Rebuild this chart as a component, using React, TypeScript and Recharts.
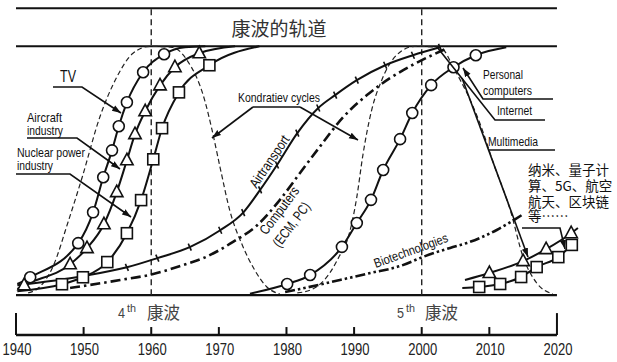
import { ComposedChart, Line, XAxis, YAxis, ReferenceLine } from 'recharts';

type Pt = [number, number];

// year labels along the bottom scale
const years = [1940, 1950, 1960, 1970, 1980, 1990, 2000, 2010, 2020];

// Kondratiev waves (dashed bells), level 0..100
const wave4: Pt[] = [
  [1941.8, 0.9], [1943.5, 3.3], [1945.5, 11.7], [1947.7, 29.4], [1949.8, 47.5], [1952.4, 71.6],
  [1954.9, 87.6], [1957.3, 97.2], [1959.8, 100], [1963.1, 99.6], [1965.3, 94.4], [1967.9, 78.4],
  [1969.0, 66.3], [1970.2, 51.1], [1971.6, 34.2], [1973.6, 19.3], [1975.3, 10.1], [1977.1, 3.3], [1979.0, 0.5],
];
const wave5: Pt[] = [
  [1981.6, 0.9], [1983.9, 2.5], [1986.4, 8.9], [1987.9, 16.1], [1989.0, 22.1], [1990.4, 39.4],
  [1991.3, 56.3], [1992.6, 74.4], [1994.1, 86.5], [1996.3, 96.5], [1999.0, 100], [2002.7, 99.6],
  [2004.9, 90.4], [2008.6, 69.1], [2010.7, 52.3], [2013.1, 34.2], [2015.0, 15.3], [2017.0, 4.9], [2019.4, 0.5],
];

// technology S-curves
const tvMarks: Pt[] = [
  [1942.1, 7.2], [1949.2, 20.9], [1951.4, 33.3], [1952.9, 47.4], [1954.2, 58.2], [1955.2, 67.9],
  [1956.4, 77.5], [1958.8, 89.6], [1961.9, 96.8],
];
const aircraftMarks: Pt[] = [
  [1941.2, 4.0], [1948.0, 12.4], [1950.5, 18.9], [1953.0, 28.5], [1954.9, 41.4], [1956.4, 54.2],
  [1957.6, 64.7], [1959.1, 73.9], [1961.3, 84.3], [1963.5, 91.6], [1967.1, 97.2],
];
const nuclearMarks: Pt[] = [
  [1946.8, 4.4], [1949.9, 7.2], [1953.5, 13.3], [1956.4, 24.9], [1958.5, 38.2], [1960.3, 54.6],
  [1961.6, 67.1], [1964.1, 81.5], [1968.6, 92.4],
];
const airtransport: Pt[] = [
  [1940.2, 4.0], [1949.8, 7.6], [1956.4, 11.2], [1960.9, 14.9], [1965.7, 19.3], [1970.2, 26.1],
  [1973.6, 33.2], [1976.1, 42.3], [1978.6, 52.3], [1981.6, 65.1], [1984.7, 75.2], [1987.2, 80.4],
  [1990.4, 86.4], [1994.6, 92.4], [1998.7, 96.4], [2002.7, 99.6],
];
const computers: Pt[] = [
  [1948.0, 2.9], [1955.4, 6.1], [1960.3, 8.5], [1964.7, 12.1], [1967.7, 14.9], [1972.1, 21.4],
  [1975.7, 28.2], [1979.0, 38.2], [1982.0, 49.1], [1985.0, 59.9], [1988.4, 71.6], [1991.9, 80.4],
  [1995.3, 87.2], [1998.3, 92.0], [2001.2, 96.0], [2003.4, 98.8],
];
const pcMarks: Pt[] = [
  [1980.1, 4.5], [1983.5, 8.1], [1988.2, 19.4], [1990.4, 29.0], [1992.5, 38.3], [1994.3, 50.3],
  [1996.8, 62.7], [1998.6, 73.2], [2001.4, 84.4], [2004.7, 91.6], [2008.0, 96.4],
];
const biotech: Pt[] = [
  [1979.8, 1.3], [1982.0, 2.5], [1987.9, 6.1], [1992.4, 8.9], [1996.8, 11.7], [2000.5, 15.7],
  [2004.2, 19.0], [2006.7, 21.0], [2011.1, 26.2], [2014.8, 32.2],
];
const newTriMarks: Pt[] = [[2010.0, 8.9], [2015.0, 13.7], [2018.4, 18.5], [2022.1, 24.9]];
const newSqMarks: Pt[] = [[2008.5, 3.3], [2011.6, 4.5], [2014.7, 7.3], [2017.0, 11.3], [2020.2, 15.3], [2022.2, 20.2]];

const tvCurve: Pt[] = [[1940.2, 4.5], ...tvMarks, [1965.0, 99.6], [1968.0, 100]];
const aircraftCurve: Pt[] = [[1940.2, 2.5], ...aircraftMarks, [1972.4, 100]];
const nuclearCurve: Pt[] = [[1940.2, 1.6], ...nuclearMarks, [1976.0, 100]];
const pcCurve: Pt[] = [[1974.6, 0.6], ...pcMarks, [2012.5, 99.6]];
const newTriCurve: Pt[] = [[2006.4, 6.1], ...newTriMarks, [2023.1, 27.0]];
const newSqCurve: Pt[] = [[2006.0, 2.9], ...newSqMarks, [2023.0, 22.2]];

const rows = (pts: Pt[]) => pts.map(([year, level]) => ({ year, level }));

const SANS = "'Liberation Sans', Arial, sans-serif";
const CJK = "'Noto Sans CJK SC', 'Noto Sans', sans-serif";
const INK = '#111';

const Circle = (p: any) =>
  p.cx == null ? <g key={p.key} /> : <circle key={p.key} cx={p.cx} cy={p.cy} r={5.5} fill="#fff" stroke={INK} strokeWidth={1.6} />;
const Tri = (p: any) =>
  p.cx == null ? <g key={p.key} /> : (
    <polygon key={p.key} points={`${p.cx},${p.cy - 7} ${p.cx - 6.2},${p.cy + 4.5} ${p.cx + 6.2},${p.cy + 4.5}`} fill="#fff" stroke={INK} strokeWidth={1.6} />
  );
const Sq = (p: any) =>
  p.cx == null ? <g key={p.key} /> : (
    <rect key={p.key} x={p.cx - 5.5} y={p.cy - 5.5} width={11} height={11} fill="#fff" stroke={INK} strokeWidth={1.6} />
  );
const Tick = (p: any) =>
  p.cx == null || p.index === 0 ? <g key={p.key} /> : (
    <line key={p.key} x1={p.cx - 1.5} y1={p.cy - 3.5} x2={p.cx + 1.5} y2={p.cy + 3.5} stroke={INK} strokeWidth={1.6} />
  );

const YearTick = (p: any) => (
  <text x={p.x + 1} y={355} textAnchor="middle" fontFamily={SANS} fontSize={17} fill="#222" textLength={29} lengthAdjust="spacingAndGlyphs">
    {p.payload.value}
  </text>
);

// narrow label: squeeze Liberation Sans to the width the original uses
const Label = ({ x, y, w, size = 13, children, ...rest }: any) => (
  <text x={x} y={y} fontSize={size} textLength={w} lengthAdjust="spacingAndGlyphs" {...rest}>
    {children}
  </text>
);

const TOP = 115.3;
const AXIS = -16;

export default function App() {
  const mark = (pts: Pt[], shape: any, key: string) => (
    <Line key={key} data={rows(pts)} dataKey="level" stroke="none" dot={shape} isAnimationActive={false} legendType="none" />
  );
  return (
    <div style={{ position: 'absolute', left: 0, top: 0, width: 617, height: 362, background: '#fff' }}>
      <ComposedChart width={617} height={362} margin={{ top: 8, right: 33, bottom: 0, left: 16 }}>
        <XAxis type="number" dataKey="year" domain={[1940, 2024]} ticks={years} interval={0} axisLine={false} tickLine={false} height={27} tick={YearTick} allowDataOverflow />
        <YAxis type="number" dataKey="level" domain={[AXIS, 115.4]} hide allowDataOverflow />

        <ReferenceLine segment={[{ x: 1940, y: TOP }, { x: 2020, y: TOP }]} stroke={INK} strokeWidth={2} />
        <ReferenceLine segment={[{ x: 1940, y: 100 }, { x: 2020, y: 100 }]} stroke={INK} strokeWidth={2} />
        <ReferenceLine segment={[{ x: 1940, y: 0 }, { x: 2020, y: 0 }]} stroke={INK} strokeWidth={2.2} />
        <ReferenceLine segment={[{ x: 1960, y: 0 }, { x: 1960, y: TOP }]} stroke="#222" strokeWidth={1.4} strokeDasharray="6 4" />
        <ReferenceLine segment={[{ x: 2000, y: 0 }, { x: 2000, y: TOP }]} stroke="#222" strokeWidth={1.4} strokeDasharray="6 4" />
        <ReferenceLine segment={[{ x: 1940, y: AXIS }, { x: 2020, y: AXIS }]} stroke={INK} strokeWidth={2.4} />
        {years.map((y, i) => (
          <ReferenceLine key={y} segment={[{ x: y, y: AXIS }, { x: y, y: i === 0 || i === years.length - 1 ? -7.2 : -12.8 }]} stroke={INK} strokeWidth={2} />
        ))}

        <Line data={rows(wave4)} dataKey="level" type="monotone" stroke="#222" strokeWidth={1.2} strokeDasharray="5 3" dot={false} isAnimationActive={false} />
        <Line data={rows(wave5)} dataKey="level" type="monotone" stroke="#222" strokeWidth={1.2} strokeDasharray="5 3" dot={false} isAnimationActive={false} />

        <Line data={rows(computers)} dataKey="level" type="monotone" stroke={INK} strokeWidth={2.6} strokeDasharray="10 4 2.5 4" dot={false} isAnimationActive={false} />
        <Line data={rows(biotech)} dataKey="level" type="monotone" stroke={INK} strokeWidth={2.6} strokeDasharray="10 3 2.5 3 2.5 3" dot={false} isAnimationActive={false} />
        <Line data={rows(airtransport)} dataKey="level" type="monotone" stroke={INK} strokeWidth={2} dot={Tick} isAnimationActive={false} />
        <Line data={rows(tvCurve)} dataKey="level" type="monotone" stroke={INK} strokeWidth={2} dot={false} isAnimationActive={false} />
        <Line data={rows(aircraftCurve)} dataKey="level" type="monotone" stroke={INK} strokeWidth={2} dot={false} isAnimationActive={false} />
        <Line data={rows(nuclearCurve)} dataKey="level" type="monotone" stroke={INK} strokeWidth={2} dot={false} isAnimationActive={false} />
        <Line data={rows(pcCurve)} dataKey="level" type="monotone" stroke={INK} strokeWidth={2} dot={false} isAnimationActive={false} />
        <Line data={rows(newTriCurve)} dataKey="level" type="monotone" stroke={INK} strokeWidth={2} dot={false} isAnimationActive={false} />
        <Line data={rows(newSqCurve)} dataKey="level" type="monotone" stroke={INK} strokeWidth={2} dot={false} isAnimationActive={false} />

        {mark(tvMarks, Circle, 'tvm')}
        {mark(aircraftMarks, Tri, 'acm')}
        {mark(nuclearMarks, Sq, 'num')}
        {mark(pcMarks, Circle, 'pcm')}
        {mark(newTriMarks, Tri, 'ntm')}
        {mark(newSqMarks, Sq, 'nsm')}
      </ComposedChart>

      <svg width={617} height={362} style={{ position: 'absolute', left: 0, top: 0, pointerEvents: 'none' }}>
        <defs>
          <marker id="arr" viewBox="0 0 10 10" refX="10" refY="5" markerWidth="9" markerHeight="9" markerUnits="userSpaceOnUse" orient="auto">
            <path d="M0,1.5 L10,5 L0,8.5 z" fill={INK} />
          </marker>
        </defs>
        <g fill="none" stroke={INK} strokeWidth={1.6}>
          <polyline points="53,87 82,87 121,113" markerEnd="url(#arr)" />
          <polyline points="27,138 77,138 120,169" markerEnd="url(#arr)" />
          <polyline points="16,174 70,174 131,217" markerEnd="url(#arr)" />
          <polyline points="253,107 300,107" />
          <polyline points="253,107 212,138" markerEnd="url(#arr)" />
          <polyline points="300,107 358,140" markerEnd="url(#arr)" />
          <polyline points="553,99 483,99 463,68" markerEnd="url(#arr)" />
          <polyline points="545,120 495,120 437,47" />
          <polyline points="555,150 488,150" />
          <polyline points="462,78 528,257" markerEnd="url(#arr)" />
          <polyline points="522,228 560,228 565,249" markerEnd="url(#arr)" />
        </g>

        <text x={279} y={36} textAnchor="middle" fontFamily={CJK} fontSize={19} fill="#333">康波的轨道</text>

        <g fontFamily={SANS} fill={INK}>
          <Label x={60} y={82} w={16} size={17}>TV</Label>
          <text fontSize={13}>
            <tspan x={27} y={122} textLength={35} lengthAdjust="spacingAndGlyphs">Aircraft</tspan>
            <tspan x={27} y={134.5} textLength={36} lengthAdjust="spacingAndGlyphs">industry</tspan>
          </text>
          <text fontSize={13}>
            <tspan x={17} y={157} textLength={68} lengthAdjust="spacingAndGlyphs">Nuclear power</tspan>
            <tspan x={17} y={169.5} textLength={36} lengthAdjust="spacingAndGlyphs">industry</tspan>
          </text>
          <Label x={238} y={102} w={82}>Kondratiev cycles</Label>
          <text fontSize={13}>
            <tspan x={483} y={79} textLength={40} lengthAdjust="spacingAndGlyphs">Personal</tspan>
            <tspan x={483} y={95} textLength={49} lengthAdjust="spacingAndGlyphs">computers</tspan>
          </text>
          <Label x={497} y={115} w={35}>Internet</Label>
          <Label x={488} y={146} w={50}>Multimedia</Label>
          <text x={270} y={166} fontSize={14} textAnchor="middle" textLength={60} lengthAdjust="spacingAndGlyphs" transform="rotate(-56 270 162)">Airtransport</text>
          <text x={280} y={215} fontSize={14} textAnchor="middle" textLength={56} lengthAdjust="spacingAndGlyphs" transform="rotate(-53 280 211)">Computers</text>
          <text x={292} y={229} fontSize={14} textAnchor="middle" textLength={52} lengthAdjust="spacingAndGlyphs" transform="rotate(-53 292 225)">(ECM, PC)</text>
          <text x={411} y={255} fontSize={13} textAnchor="middle" textLength={78} lengthAdjust="spacingAndGlyphs" transform="rotate(-20 411 251)">Biotechnologies</text>
        </g>

        <g fill="#444">
          <text x={118} y={318} fontFamily={SANS} fontSize={15} textLength={7} lengthAdjust="spacingAndGlyphs">4</text>
          <text x={127} y={312} fontFamily={SANS} fontSize={10} textLength={9} lengthAdjust="spacingAndGlyphs">th</text>
          <text x={147} y={319} fontFamily={CJK} fontSize={16.5}>康波</text>
          <text x={397} y={318} fontFamily={SANS} fontSize={15} textLength={7} lengthAdjust="spacingAndGlyphs">5</text>
          <text x={406} y={312} fontFamily={SANS} fontSize={10} textLength={9} lengthAdjust="spacingAndGlyphs">th</text>
          <text x={425} y={319} fontFamily={CJK} fontSize={16.5}>康波</text>
        </g>

        <text fontFamily={CJK} fontSize={13.5} fill={INK}>
          <tspan x={528} y={175}>纳米、量子计</tspan>
          <tspan x={528} y={191}>算、5G、航空</tspan>
          <tspan x={528} y={207}>航天、区块链</tspan>
          <tspan x={528} y={221}>等……</tspan>
        </text>
      </svg>
    </div>
  );
}
